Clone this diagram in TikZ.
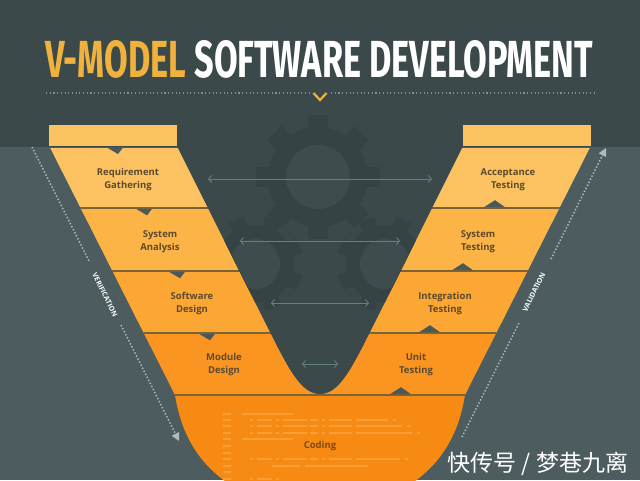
\documentclass[tikz,border=0pt]{standalone}
\usepackage{fontspec}
\setmainfont{Open Sans}
\newfontfamily\titlefont{Fira Sans}
\newfontfamily\cjkfont{Noto Sans CJK SC}
\usetikzlibrary{arrows.meta}

\definecolor{bgdark}{HTML}{3C494A}
\definecolor{bglight}{HTML}{4D5D5F}
\definecolor{gearc}{HTML}{364344}
\definecolor{gearhole}{HTML}{3E4C4D}
\definecolor{vgold}{HTML}{F0B23C}
\definecolor{barc}{HTML}{FBC35F}
\definecolor{bandA}{HTML}{FCC261}
\definecolor{bandB}{HTML}{FDB446}
\definecolor{bandC}{HTML}{FCA734}
\definecolor{bandD}{HTML}{FA9522}
\definecolor{bandE}{HTML}{F78A12}
\definecolor{divc}{HTML}{7A6436}
\definecolor{notchc}{HTML}{4A5859}
\definecolor{labelc}{HTML}{5B4A2C}
\definecolor{codingc}{HTML}{7A4A14}
\definecolor{codec}{HTML}{FA9F35}
\definecolor{arrowc}{HTML}{667E7F}
\definecolor{sidec}{HTML}{AEBCBC}
\definecolor{dotc}{HTML}{82918F}

\tikzset{
  stagelabel/.style={text=labelc, align=center, inner sep=0pt,
    font=\fontsize{9.5}{13}\selectfont\bfseries},
  sidelabel/.style={text=white, inner sep=0pt,
    font=\fontsize{7}{8}\selectfont\bfseries},
  pairarrow/.style={draw=arrowc, line width=0.9pt,
    {Straight Barb[length=3pt,width=7pt]}-{Straight Barb[length=3pt,width=7pt]}},
  sideline/.style={draw=sidec, line width=1.5pt, dash pattern=on 1.4pt off 2pt},
  divider/.style={draw=divc, line width=1.6pt},
  codebar/.style={draw=codec, line width=1.7pt},
  notch/.style={fill=notchc},
}

\begin{document}
\begin{tikzpicture}[x=1pt,y=-1pt]
\useasboundingbox (0,0) rectangle (640,480);

% backgrounds
\fill[bgdark] (0,0) rectangle (640,480);
\fill[bglight] (0,146.5) rectangle (640,480);

% title
\node[anchor=base west, inner sep=0pt] (title) at (45,77)
  {\resizebox{548pt}{37pt}{\titlefont\bfseries\textcolor{vgold}{V-MODEL}\ \textcolor{white}{SOFTWARE DEVELOPMENT}}};

% dotted rule with chevron
\coordinate (d1) at (46,93);
\coordinate (d2) at (309,93);
\coordinate (d3) at (331,93);
\coordinate (d4) at (594,93);
\draw[dotc, line width=1.1pt, dash pattern=on 1.1pt off 2.6pt] (d1) -- (d2);
\draw[dotc, line width=1.1pt, dash pattern=on 1.1pt off 2.6pt] (d3) -- (d4);
\draw[vgold, line width=2.2pt] (313.5,93) -- (320,100) -- (326.5,93);

% top bars
\fill[barc] (49,125) rectangle (177,145.5);
\fill[barc] (463,125) rectangle (591,145.5);

% orange V with its horizontal bands
\begin{scope}
  \clip (50,147.5) -- (175,395) .. controls (180,425) and (192,460) .. (232,486)
        -- (408,486) .. controls (448,460) and (460,425) .. (465,395)
        -- (590,147.5) -- cycle;
  \fill[bandA] (0,147.5) rectangle (640,208);
  \fill[bandB] (0,208) rectangle (640,271);
  \fill[bandC] (0,271) rectangle (640,333);
  \fill[bandD] (0,333) rectangle (640,395);
  \fill[bandE] (0,395) rectangle (640,490);
  \draw[divider] (0,208) -- (640,208);
  \draw[divider] (0,271) -- (640,271);
  \draw[divider] (0,333) -- (640,333);
  \draw[divider] (0,395) -- (640,395);
\end{scope}

% inner part of the V
\fill[bgdark] (177,146) -- (270,332) .. controls (290,372) and (302,394) .. (320,394)
  .. controls (338,394) and (350,372) .. (370,332) -- (463,146) -- cycle;

% gears behind the V
\begin{scope}
  \clip (177,100) -- (177,146) -- (270,332) .. controls (290,372) and (302,394) .. (320,394)
    .. controls (338,394) and (350,372) .. (370,332) -- (463,146) -- (463,100) -- cycle;
  % lower gears
  \foreach \cx in {255,385}{
    \fill[gearc] (\cx,264) circle (39pt);
    \foreach \a in {22.5,67.5,112.5,157.5}
      \fill[gearc, rotate around={\a:(\cx,264)}] (\cx-8,216) rectangle (\cx+8,312);
    \fill[gearhole] (\cx,264) circle (25pt);
  }
  % large gear
  \fill[gearc] (318,177) circle (50pt);
  \foreach \a in {0,45,90,135}
    \fill[gearc, rotate around={\a:(318,177)}] (308,115) rectangle (328,239);
  \fill[gearhole] (318,177) circle (32pt);
\end{scope}

% pairing arrows between the two arms
\coordinate (h1a) at (208,179);  \coordinate (h1b) at (432,179);
\coordinate (h2a) at (240,241);  \coordinate (h2b) at (400,241);
\coordinate (h3a) at (271,303);  \coordinate (h3b) at (369,303);
\coordinate (h4a) at (302,364);  \coordinate (h4b) at (338,364);
\draw[pairarrow] (h1a) -- (h1b);
\draw[pairarrow] (h2a) -- (h2b);
\draw[pairarrow] (h3a) -- (h3b);
\draw[pairarrow] (h4a) -- (h4b);

% notches: down on the left arm, up on the right arm
\foreach \x/\y in {118/147.5,147/208.8,180/271.8,210/333.8}
  \fill[notch] (\x-11,\y) -- (\x,\y+6.5) -- (\x+5,\y) -- cycle;
\foreach \x/\y in {497/207.2,465/270.2,432/332.2,403/394.2}
  \fill[notch] (\x-13,\y) -- (\x-2,\y-7) -- (\x+8,\y) -- cycle;

% code lines in the bottom band
\foreach \y in {414,420,426,433,439,446,453,459,466,472,479}
  \draw[codebar] (223,\y) -- (231,\y);
\foreach \y in {414,439}
  \draw[codebar] (242,\y) -- (293,\y);
\foreach \y/\e in {420/388,426/402,433/412,459/400}{
  \draw[codebar] (250,\y) -- (253,\y);
  \draw[codebar] (257,\y) -- (272,\y);
  \draw[codebar] (276,\y) -- (279,\y);
  \draw[codebar] (283,\y) -- (307,\y);
  \draw[codebar] (310,\y) -- (318,\y);
  \draw[codebar] (322,\y) -- (325,\y);
  \draw[codebar] (329,\y) -- (352,\y);
  \draw[codebar] (356,\y) -- (\e,\y);
  \draw[codebar] (\e+5,\y) -- (\e+8,\y);
}
\draw[codebar] (272,466) -- (300,466);
\draw[codebar] (305,466) -- (368,466);
\draw[codebar] (250,479) -- (253,479);
\draw[codebar] (257,479) -- (272,479);
\draw[codebar] (276,479) -- (279,479);

% stage labels
\node[stagelabel] (req)   at (128,179.5) {Requirement\\Gathering};
\node[stagelabel] (sysan) at (160,241.5) {System\\Analysis};
\node[stagelabel] (swd)   at (192,303.5) {Software\\Design};
\node[stagelabel] (modd)  at (224,364.5) {Module\\Design};
\node[stagelabel] (acc)   at (508,179.5) {Acceptance\\Testing};
\node[stagelabel] (syst)  at (478,241.5) {System\\Testing};
\node[stagelabel] (integ) at (445,303.5) {Integration\\Testing};
\node[stagelabel] (unit)  at (416,364.5) {Unit\\Testing};
\node[stagelabel, text=codingc] (coding) at (320,446) {Coding};

% verification / validation guides
\node[sidelabel, rotate=-63.4] (verif) at (105,295) {VERIFICATION};
\node[sidelabel, rotate=63.4] (valid) at (534,292) {VALIDATION};
\coordinate (v1) at (32,147);
\coordinate (v2) at (89,261);
\coordinate (v3) at (121,325);
\coordinate (v4) at (179,441);
\draw[sideline] (v1) -- (v2);
\draw[sideline, -{Triangle[length=8pt,width=8pt,fill=sidec]}] (v3) -- (v4);
\coordinate (w1) at (462,437);
\coordinate (w2) at (519,323);
\coordinate (w3) at (551,259);
\coordinate (w4) at (606,148);
\draw[sideline] (w1) -- (w2);
\draw[sideline, -{Triangle[length=8pt,width=8pt,fill=sidec]}] (w3) -- (w4);

% caption in the corner
\node[text=white, inner sep=0pt, font=\cjkfont\fontsize{23}{24}\selectfont] (mark) at (538,464) {快传号 / 梦巷九离};
\end{tikzpicture}
\end{document}
